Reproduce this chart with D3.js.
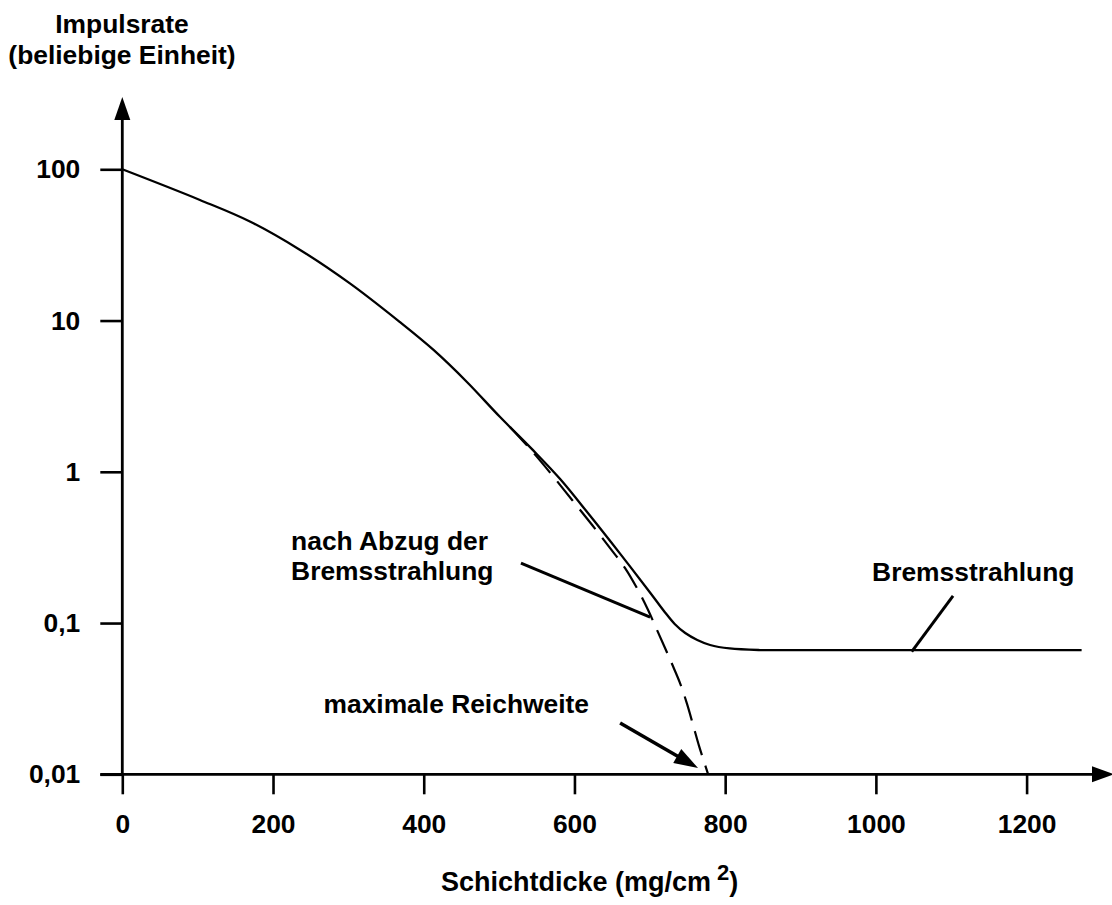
<!DOCTYPE html>
<html>
<head>
<meta charset="utf-8">
<script src="https://cdn.jsdelivr.net/npm/d3@7"></script>
<style>
  html, body { margin: 0; padding: 0; background: #fff; }
  svg text { font-family: "Liberation Sans", Arial, Helvetica, sans-serif; font-weight: bold; fill: #000; }
</style>
</head>
<body>
<svg id="chart" width="1112" height="905"></svg>
<script>
// Absorption curve of beta radiation: count rate vs. absorber thickness
const xTicks = [0, 200, 400, 600, 800, 1000, 1200];
const yTicks = [100, 10, 1, 0.1, 0.01];
const yTickLabels = ["100", "10", "1", "0,1", "0,01"];

// measured count rate (solid curve)
const measuredThickness = [0, 103, 170, 236, 302, 368, 413, 457, 501, 545, 581, 620, 660, 700, 720, 733, 747, 763, 780, 806, 846, 900, 1000, 1273];
const measuredRate = [100, 62.7, 45, 29.3, 17.6, 9.8, 6.39, 3.94, 2.31, 1.39, 0.896, 0.518, 0.290, 0.160, 0.118, 0.0986, 0.0859, 0.0773, 0.0716, 0.0679, 0.0663, 0.0662, 0.0662, 0.0662];

// count rate after subtracting the bremsstrahlung background (dashed curve)
const correctedThickness = [514.5, 542.4, 570.3, 596.9, 623.5, 647.3, 667.2, 684.4, 697.7, 709.6, 720.2, 729.5, 740.1, 749.4, 757.4, 765.3, 771.3, 777.4];
const correctedRate = [1.978, 1.393, 0.952, 0.651, 0.445, 0.313, 0.231, 0.165, 0.122, 0.0899, 0.0684, 0.0536, 0.0401, 0.0292, 0.0212, 0.0154, 0.0124, 0.01];

const svg = d3.select("#chart");

const x = d3.scaleLinear().domain([0, 1200]).range([122.3, 1026.6]);
const y = d3.scaleLog().domain([0.01, 100]).range([774.3, 169.3]);

const FS = 26.4;

// ---- axes ----
const xAxis = d3.axisBottom(x)
  .tickValues(xTicks)
  .tickSize(20)
  .tickPadding(20)
  .tickFormat(d3.format("d"));

const gx = svg.append("g")
  .attr("transform", `translate(0,${y(0.01)})`)
  .call(xAxis);
gx.select(".domain").remove();
gx.selectAll(".tick line").attr("stroke", "#000").attr("stroke-width", 2.6);
gx.selectAll(".tick text").style("font-size", FS + "px");

const yAxis = d3.axisLeft(y)
  .tickValues(yTicks)
  .tickSize(22)
  .tickPadding(20)
  .tickFormat((d, i) => yTickLabels[i]);

const gy = svg.append("g")
  .attr("transform", `translate(${x(0)},0)`)
  .call(yAxis);
gy.select(".domain").remove();
gy.selectAll(".tick line").attr("stroke", "#000").attr("stroke-width", 2.6);
gy.selectAll(".tick text").style("font-size", FS + "px");

// axis lines with arrow heads
const x0 = x(0), y0 = y(0.01);
svg.append("line")
  .attr("x1", x0).attr("y1", y0 + 1).attr("x2", x0).attr("y2", 110)
  .attr("stroke", "#000").attr("stroke-width", 2.8);
svg.append("path")
  .attr("d", `M${x0},97 L${x0 - 8},120 L${x0 + 8},120 Z`)
  .attr("fill", "#000");

svg.append("line")
  .attr("x1", x0 - 22).attr("y1", y0).attr("x2", 1100).attr("y2", y0)
  .attr("stroke", "#000").attr("stroke-width", 2.8);
svg.append("path")
  .attr("d", `M1114,${y0} L1092,${y0 - 8} L1092,${y0 + 8} Z`)
  .attr("fill", "#000");

// ---- curves ----
const line = d3.line()
  .x(d => x(d[0]))
  .y(d => y(d[1]))
  .curve(d3.curveCatmullRom.alpha(0.5));

svg.append("path")
  .datum(measuredThickness.map((t, i) => [t, measuredRate[i]]))
  .attr("d", line)
  .attr("fill", "none")
  .attr("stroke", "#000")
  .attr("stroke-width", 2.3);

svg.append("path")
  .datum(correctedThickness.map((t, i) => [t, correctedRate[i]]))
  .attr("d", line)
  .attr("fill", "none")
  .attr("stroke", "#000")
  .attr("stroke-width", 2.2)
  .attr("stroke-dasharray", "25,11");

// ---- annotations (anchored in data units) ----
const labels = [
  { text: "nach Abzug der", at: [224, 0.305] },
  { text: "Bremsstrahlung", at: [224, 0.193] },
  { text: "Bremsstrahlung", at: [995, 0.19] },
  { text: "maximale Reichweite", at: [267, 0.0254] }
];
svg.selectAll("text.note")
  .data(labels)
  .join("text")
  .attr("class", "note")
  .attr("x", d => x(d.at[0]))
  .attr("y", d => y(d.at[1]))
  .style("font-size", FS + "px")
  .text(d => d.text);

const leaders = [
  [[529, 0.249], [700.4, 0.1096]],
  [[1047.6, 0.0647], [1102.4, 0.151]]
];
svg.selectAll("line.leader")
  .data(leaders)
  .join("line")
  .attr("class", "leader")
  .attr("x1", d => x(d[0][0])).attr("y1", d => y(d[0][1]))
  .attr("x2", d => x(d[1][0])).attr("y2", d => y(d[1][1]))
  .attr("stroke", "#000")
  .attr("stroke-width", 3);

// arrow pointing at the maximum range
const rangeArrow = [[660.6, 0.0218], [764, 0.011]];
{
  const [p, q] = rangeArrow.map(d => [x(d[0]), y(d[1])]);
  const dx = q[0] - p[0], dy = q[1] - p[1];
  const len = Math.hypot(dx, dy), ux = dx / len, uy = dy / len;
  const head = 24, half = 8;
  const bx = q[0] - ux * head, by = q[1] - uy * head;
  svg.append("line")
    .attr("x1", p[0]).attr("y1", p[1]).attr("x2", bx + ux * 2).attr("y2", by + uy * 2)
    .attr("stroke", "#000").attr("stroke-width", 3.5);
  svg.append("path")
    .attr("d", `M${q[0]},${q[1]} L${bx - uy * half},${by + ux * half} L${bx + uy * half},${by - ux * half} Z`)
    .attr("fill", "#000");
}

// ---- axis titles ----
const yTitle = svg.append("text")
  .attr("text-anchor", "middle")
  .style("font-size", FS + "px");
yTitle.append("tspan").attr("x", 122).attr("y", 33).text("Impulsrate");
yTitle.append("tspan").attr("x", 122).attr("y", 64).text("(beliebige Einheit)");

const xTitle = svg.append("text")
  .attr("x", 441)
  .attr("y", 891)
  .style("font-size", "27px");
xTitle.append("tspan").text("Schichtdicke (mg/cm");
xTitle.append("tspan").attr("dx", 6).attr("dy", -11).style("font-size", "22px").text("2");
xTitle.append("tspan").attr("dy", 11).text(")");
</script>
</body>
</html>
